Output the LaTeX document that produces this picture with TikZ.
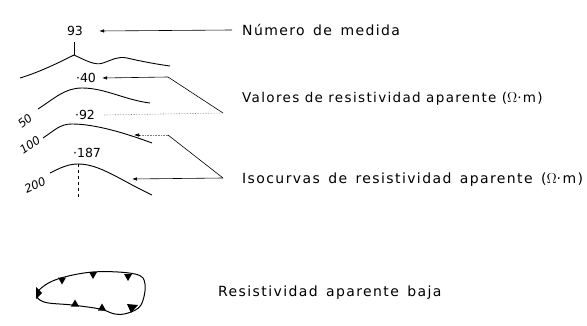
\documentclass[tikz,border=0pt]{standalone}
\usepackage{fontspec}
\setmainfont{DejaVu Sans}
\newfontfamily\lblfont[LetterSpace=10]{DejaVu Sans}
\usetikzlibrary{arrows.meta}
\newcommand{\wsp}{\hspace{0.6em}}
\newcommand{\vsp}{\hspace{0.4em}}
\begin{document}
\begin{tikzpicture}[x=1pt,y=-1pt,
  lbl/.style={anchor=west,inner sep=0pt,font=\lblfont\fontsize{14}{16}\selectfont},
  num/.style={inner sep=0pt,font=\fontsize{12.5}{14}\selectfont},
  iso/.style={inner sep=0pt,font=\fontsize{11.5}{12}\selectfont\itshape},
  curve/.style={line width=0.9pt},
  arr/.style={line width=0.6pt,-{Latex[length=5pt,width=3.5pt]}},
  dotarr/.style={line width=0.6pt,densely dotted,gray},
  tri/.style={fill=black}]
\useasboundingbox (0,0) rectangle (587,326);
% labels
\node[lbl] (lnum) at (242,30) {Número\wsp de\wsp medida};
\node[lbl,font=\lblfont\fontsize{13.5}{16}\selectfont] (lval) at (242,99) {Valores\vsp de\vsp resistividad\vsp aparente\vsp ($\Omega$·m)};
\node[lbl] (liso) at (242,180) {Isocurvas\wsp de\wsp resistividad\wsp aparente\wsp ($\Omega$·m)};
\node[lbl] (lbaja) at (218,293) {Resistividad\wsp aparente\wsp baja};
% numbers
\node[num] (n93) at (75,31) {93};
\node[num] (n40) at (86,78) {·40};
\node[num] (n92) at (85,115) {·92};
\node[num] (n187) at (87,153) {·187};
\node[iso,rotate=40] (i50) at (25,121) {50};
\node[iso,rotate=35] (i100) at (30,145) {100};
\node[iso,rotate=25] (i200) at (35,185) {200};
% top curve with tick
\coordinate (tkt) at (74,42);
\coordinate (tk) at (74,55);
\draw[curve] (tkt) -- (tk);
\draw[curve] (20,78) .. controls (40,72) and (60,62) .. (tk)
  .. controls (85,60) and (95,66) .. (103,63)
  .. controls (112,60) and (118,56) .. (127,58)
  .. controls (140,61) and (155,64) .. (170,66);
% isocurves
\draw[curve] (38,109) .. controls (55,98) and (65,88) .. (82,88)
  .. controls (105,88) and (125,100) .. (150,103);
\draw[curve] (43,138) .. controls (55,130) and (60,124) .. (72,124)
  .. controls (95,124) and (125,133) .. (152,143);
\coordinate (pk) at (78,164);
\draw[curve] (50,173) .. controls (60,168) and (68,164) .. (pk)
  .. controls (100,164) and (120,180) .. (152,195);
\coordinate (pkb) at (78,198);
\draw[curve,dashed] (pk) -- (pkb);
% arrows
\coordinate (a1s) at (232,30);
\draw[arr] (a1s) -- ([xshift=16pt]n93.east);
\coordinate (vj) at (223,113);
\coordinate (vb) at (168,77);
\draw[arr] (vj) -- (vb) -- ([xshift=6pt]n40.east);
\draw[dotarr] (vj) -- ([xshift=8pt]n92.east);
\draw[arr,draw=none] ([xshift=9pt]n92.east) -- ([xshift=5pt]n92.east);
\coordinate (ij) at (223,178);
\coordinate (ib) at (168,135);
\coordinate (ia) at (140,135);
\coordinate (ia0) at (134,135);
\draw[line width=0.6pt] (ij) -- (ib);
\draw[dotarr] (ib) -- (ia);
\draw[arr] (ia) -- (ia0);
\coordinate (ia2) at (132,179);
\draw[arr] (ij) -- (ia2);
% blob
\draw[line width=1pt] plot[smooth cycle,tension=0.6] coordinates
  {(37,293) (55,280) (93,272) (135,274) (145,284) (141,305) (128,313) (115,314)
   (100,309) (72,305) (44,302)};
% triangles on blob
\foreach \x/\y in {62/278, 93/272.5, 128/274.5}
  \fill[tri] (\x,\y) ++(-4,-0.5) -- ++(8,0) -- ++(-4,7) -- cycle;
\foreach \x/\y in {75/306, 102/310}
  \fill[tri] (\x,\y) ++(-4,0.5) -- ++(8,0) -- ++(-4,-7) -- cycle;
\fill[tri] (131,313) -- (138,305) -- (127,304) -- cycle;
\fill[tri] (36,287) -- (42,293) -- (36,299) -- cycle;
\end{tikzpicture}
\end{document}
